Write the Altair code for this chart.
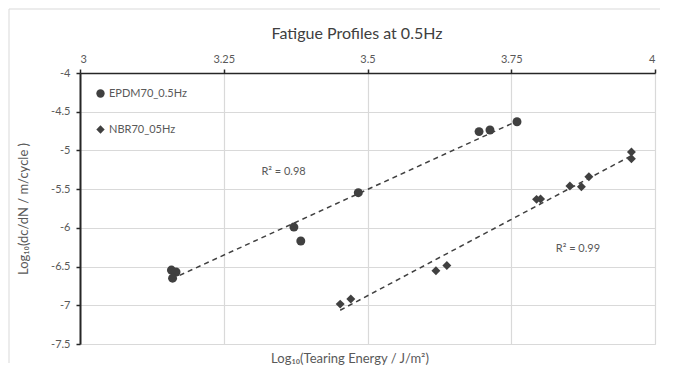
import altair as alt
import pandas as pd

series_names = ["EPDM70_0.5Hz", "NBR70_05Hz"]

epdm_x = [3.159, 3.167, 3.161, 3.372, 3.384, 3.484, 3.694, 3.713, 3.760]
epdm_y = [-6.545, -6.57, -6.65, -5.99, -6.17, -5.546, -4.757, -4.736, -4.63]

nbr_x = [3.4525, 3.471, 3.619, 3.638, 3.794, 3.801, 3.852, 3.872, 3.885, 3.959, 3.959]
nbr_y = [-6.985, -6.92, -6.554, -6.485, -5.632, -5.628, -5.46, -5.469, -5.34, -5.02, -5.107]

r2_text = ["R² = 0.98", "R² = 0.99"]
r2_x = [3.354, 3.866]
r2_y = [-5.28, -6.27]

x_ticks = [3, 3.25, 3.5, 3.75, 4]
y_ticks = [-4, -4.5, -5, -5.5, -6, -6.5, -7, -7.5]

chart_title = "Fatigue Profiles at 0.5Hz"
x_title = "Log₁₀(Tearing Energy / J/m²)"
y_title = "Log₁₀(dc/dN / m/cycle )"

df = pd.DataFrame({
    "x": epdm_x + nbr_x,
    "y": epdm_y + nbr_y,
    "series": [series_names[0]] * len(epdm_x) + [series_names[1]] * len(nbr_x),
})
r2_df = pd.DataFrame({"x": r2_x, "y": r2_y, "text": r2_text})
one = pd.DataFrame({"a": [0]})

FONT = "Lato"
DARK = "#404040"
LABEL = "#595959"
GRID = "#d9d9d9"

xscale = alt.Scale(domain=[3, 4], nice=False, zero=False)
yscale = alt.Scale(domain=[-7.5, -4], nice=False, zero=False)

x_axis = alt.Axis(
    orient="top", values=x_ticks, labelExpr="'' + datum.value", title=None,
    domain=True, domainColor="#262626", domainWidth=1.5,
    ticks=True, tickColor="#262626", tickSize=4, tickWidth=1.5,
    labelFont=FONT, labelFontSize=11, labelColor=LABEL, labelPadding=5,
    grid=True, gridColor=GRID, gridWidth=1.2)
y_axis = alt.Axis(
    orient="left", values=y_ticks, labelExpr="'' + datum.value",
    title=y_title, titleFont=FONT, titleFontSize=13,
    titleFontWeight="normal", titleColor=LABEL, titlePadding=20,
    domain=True, domainColor="#262626", domainWidth=2,
    ticks=True, tickColor="#262626", tickSize=4, tickWidth=1.5,
    labelFont=FONT, labelFontSize=11, labelColor=LABEL, labelPadding=6,
    grid=True, gridColor=GRID, gridWidth=1.2)

def xe():
    return alt.X("x:Q", scale=xscale, axis=x_axis)

def ye():
    return alt.Y("y:Q", scale=yscale, axis=y_axis)

points = alt.Chart(df).mark_point(filled=True, opacity=1, size=80, color=DARK).encode(
    x=xe(),
    y=ye(),
    shape=alt.Shape("series:N", scale=alt.Scale(domain=series_names, range=["circle", "diamond"]),
                    legend=alt.Legend(title=None, orient="none", legendX=15, legendY=15,
                                      symbolFillColor=DARK, symbolStrokeColor=DARK, symbolSize=70,
                                      labelFont=FONT, labelFontSize=11, labelColor=LABEL,
                                      rowPadding=21, labelOffset=3)),
)

lines = alt.Chart(df).transform_regression("x", "y", groupby=["series"]).mark_line(
    color=DARK, strokeDash=[5, 4], strokeWidth=1.5).encode(
    x=xe(), y=ye(), detail="series:N")

r2 = alt.Chart(r2_df).mark_text(font=FONT, fontSize=11, color=LABEL).encode(
    x=xe(), y=ye(), text="text:N")

title_mark = alt.Chart(one).mark_text(
    font=FONT, fontSize=16, color=DARK, baseline="middle", align="center").encode(
    x=alt.value(277), y=alt.value(-39), text=alt.value(chart_title))

xtitle_mark = alt.Chart(one).mark_text(
    font=FONT, fontSize=13, color=LABEL, baseline="middle", align="center").encode(
    x=alt.value(270), y=alt.value(286), text=alt.value(x_title))

frame_top = alt.Chart(one).mark_rule(color=GRID, strokeWidth=1, clip=False).encode(
    x=alt.value(-71), x2=alt.value(580), y=alt.value(-64))
frame_left = alt.Chart(one).mark_rule(color=GRID, strokeWidth=1, clip=False).encode(
    x=alt.value(-71), y=alt.value(-64), y2=alt.value(290))

chart = alt.layer(frame_top, frame_left, lines, points, r2, title_mark, xtitle_mark).properties(
    width=575, height=271,
    padding={"left": 72, "top": 65, "right": 8, "bottom": 24},
    autosize=alt.AutoSizeParams(type="none"),
).configure_view(stroke=None).configure(background="white")

chart.save("out.html", embed_options={"renderer": "svg", "actions": False})
